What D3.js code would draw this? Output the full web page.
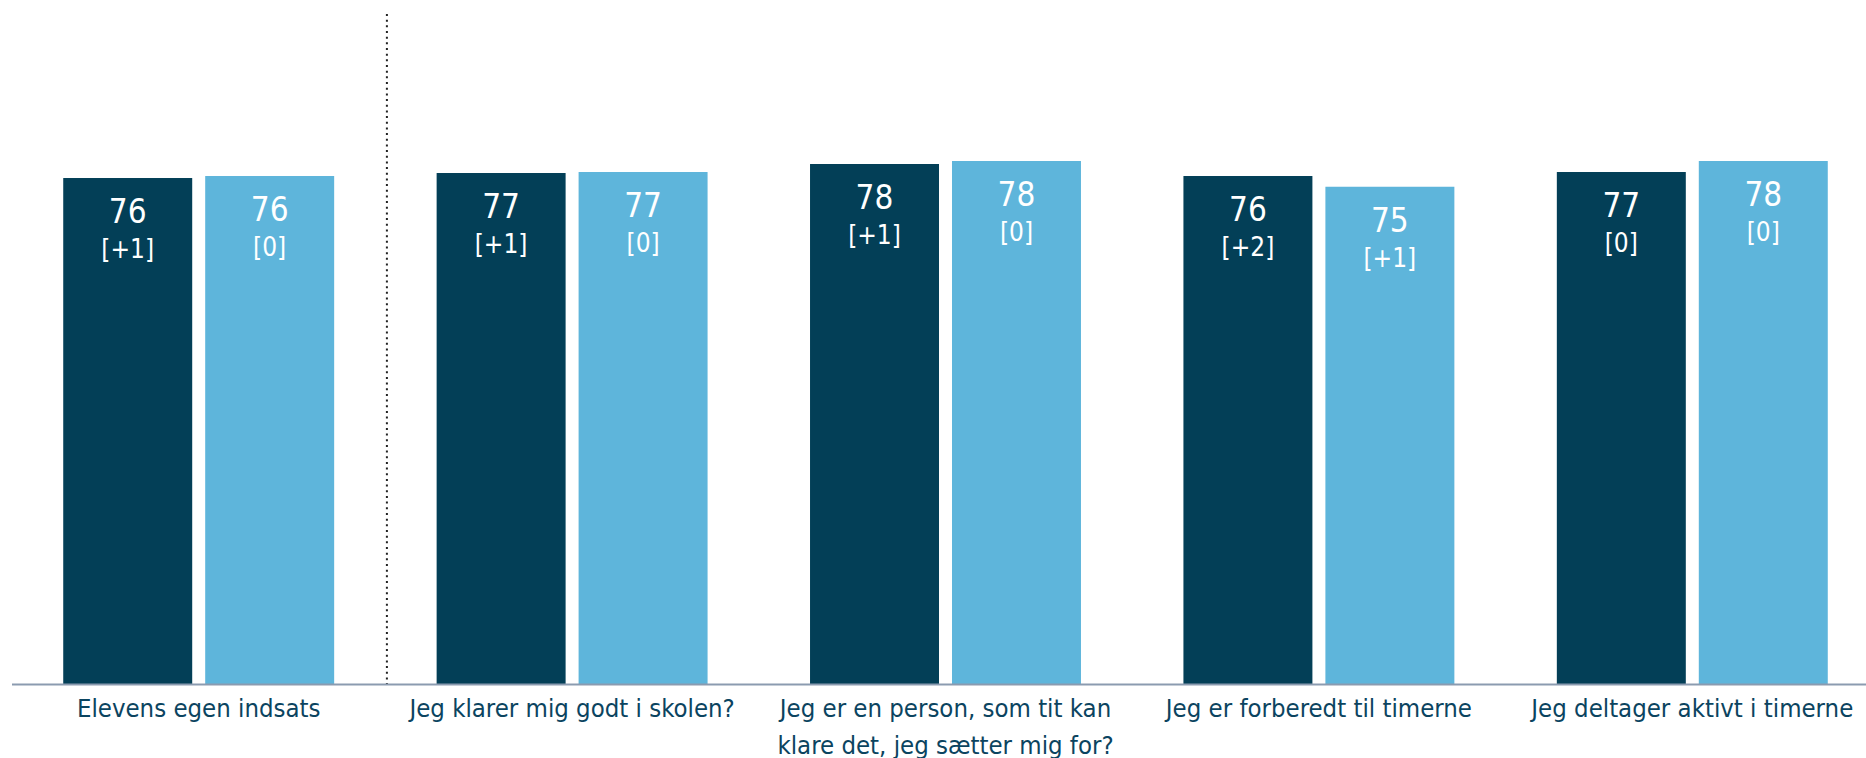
<!DOCTYPE html>
<html>
<head>
<meta charset="utf-8">
<script src="https://cdn.jsdelivr.net/npm/d3@7"></script>
<style>
  html, body { margin: 0; padding: 0; background: #ffffff; }
  svg { display: block; }
  text { font-family: "DejaVu Sans Condensed", "DejaVu Sans", sans-serif; font-stretch: condensed; }
</style>
</head>
<body>
<svg id="chart" width="1866" height="758"></svg>
<script>
// ---- data ----
const categories = [
  "Elevens egen indsats",
  "Jeg klarer mig godt i skolen?",
  "Jeg er en person, som tit kan klare det, jeg sætter mig for?",
  "Jeg er forberedt til timerne",
  "Jeg deltager aktivt i timerne"
];
const seriesNames = ["Skole", "Land"];
const seriesA = [75.86, 76.61, 77.96, 76.16, 76.76];
const seriesB = [76.16, 76.76, 78.41, 74.55, 78.41];
const changeA = ["[+1]", "[+1]", "[+1]", "[+2]", "[0]"];
const changeB = ["[0]", "[0]", "[0]", "[+1]", "[0]"];
const colors = ["#033f57", "#5eb5db"];

// ---- layout ----
const W = 1866, H = 758;
const svg = d3.select("#chart");
const baseY = 684, topY = 17;

const x = d3.scaleBand().domain(categories).range([12, 1879]).paddingInner(0.2744).paddingOuter(0.1372);
const xi = d3.scaleBand().domain(seriesNames).range([0, x.bandwidth()]).paddingInner(0.0915).paddingOuter(0);
const y = d3.scaleLinear().domain([0, 100]).range([baseY, topY]);

const rows = categories.map((c, i) => ({
  cat: c,
  bars: [
    { s: seriesNames[0], v: seriesA[i], ch: changeA[i], col: colors[0] },
    { s: seriesNames[1], v: seriesB[i], ch: changeB[i], col: colors[1] }
  ]
}));

const g = svg.selectAll("g.grp").data(rows).enter().append("g")
  .attr("class", "grp")
  .attr("transform", d => `translate(${x(d.cat)},0)`);

const b = g.selectAll("g.bar").data(d => d.bars).enter().append("g").attr("class", "bar");
b.append("rect")
  .attr("x", d => xi(d.s))
  .attr("y", d => y(d.v))
  .attr("width", xi.bandwidth())
  .attr("height", d => baseY - y(d.v))
  .attr("fill", d => d.col);
b.append("text")
  .attr("x", d => xi(d.s) + xi.bandwidth() / 2)
  .attr("y", d => y(d.v) + 45)
  .attr("text-anchor", "middle")
  .attr("fill", "#ffffff")
  .attr("font-size", 33)
  .text(d => Math.round(d.v));
b.append("text")
  .attr("x", d => xi(d.s) + xi.bandwidth() / 2)
  .attr("y", d => y(d.v) + 80)
  .attr("text-anchor", "middle")
  .attr("fill", "#ffffff")
  .attr("font-size", 26)
  .text(d => d.ch);

// dotted separator between first group and the rest
const sepX = (x(categories[0]) + x.bandwidth() + x(categories[1])) / 2 + 1.5;
svg.append("line")
  .attr("x1", sepX).attr("x2", sepX)
  .attr("y1", 14).attr("y2", baseY)
  .attr("stroke", "#222")
  .attr("stroke-width", 2)
  .attr("stroke-dasharray", "2,3.67");

// x axis
const axis = svg.append("g").attr("transform", `translate(0,${baseY})`)
  .call(d3.axisBottom(x).tickSize(0).tickPadding(0));
axis.select(".domain").attr("d", `M12,0.5H${W}`).attr("stroke", "#8b9bb0").attr("stroke-width", 2);
axis.selectAll(".tick text")
  .attr("fill", "#0b4460")
  .attr("font-size", 25.5)
  .attr("font-family", "'DejaVu Sans Condensed', 'DejaVu Sans', sans-serif")
  .attr("dy", null)
  .attr("y", 33)
  .call(wrap, x.step() - 8);

function wrap(sel, width) {
  sel.each(function() {
    const t = d3.select(this);
    const words = t.text().split(/\s+/);
    const yy = +t.attr("y");
    t.text(null);
    let line = [];
    let ln = 0;
    let tspan = t.append("tspan").attr("x", 0).attr("y", yy);
    for (const w of words) {
      line.push(w);
      tspan.text(line.join(" "));
      if (tspan.node().getComputedTextLength() > width && line.length > 1) {
        line.pop();
        tspan.text(line.join(" "));
        line = [w];
        ln++;
        tspan = t.append("tspan").attr("x", 0).attr("y", yy + ln * 36.5).text(w);
      }
    }
  });
}
</script>
</body>
</html>
